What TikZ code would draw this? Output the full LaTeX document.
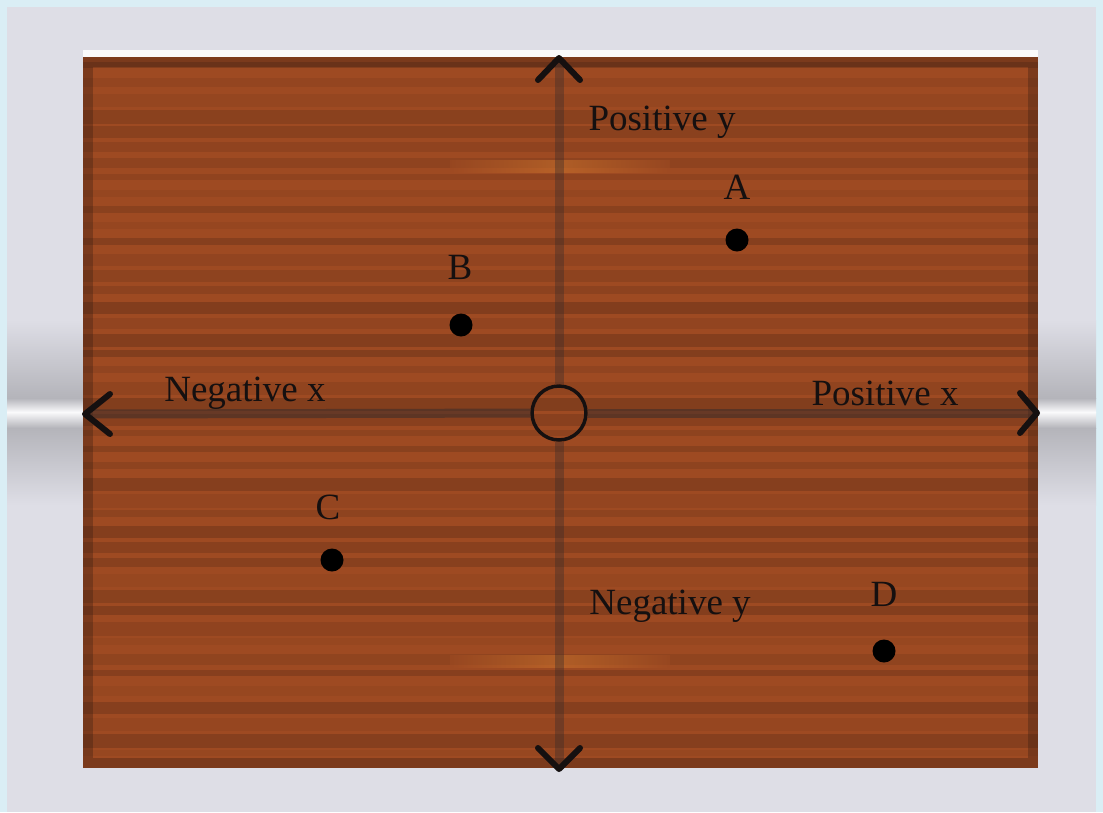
\documentclass[tikz,border=0pt]{standalone}
\usepackage{fontspec}
\setmainfont{Liberation Serif}
\usetikzlibrary{calc}
\definecolor{FrameBlue}{HTML}{DAEEF5}
\definecolor{BackGrey}{HTML}{DEDEE6}
\definecolor{ShadeGrey}{HTML}{B4B4BA}
\definecolor{WoodBase}{HTML}{9E4A22}
\definecolor{WoodDark}{HTML}{3A1E12}
\definecolor{WoodLight}{HTML}{D0782E}
\definecolor{AxisDark}{HTML}{3A2C2A}
\definecolor{InkDark}{HTML}{151010}

\begin{document}
\begin{tikzpicture}[x=1pt,y=-1pt]
    \tikzset{axislabel/.style={text=InkDark,font=\fontsize{37}{42}\selectfont,inner sep=0pt},
      pointlabel/.style={axislabel},
      dotmark/.style={circle,fill=black,minimum size=23pt,inner sep=0pt},
      chevron/.style={draw=InkDark,line width=6pt,line cap=round,line join=round},
      axisline/.style={draw=AxisDark,line width=9pt,opacity=0.55}}
    % frame and background
    \fill[FrameBlue] (0,0) rectangle (1103,812);
    \fill[BackGrey] (7,7) rectangle (1096,812);
    \shade[top color=BackGrey,bottom color=ShadeGrey] (7,320) rectangle (83,398);
    \shade[top color=ShadeGrey,bottom color=white!85!BackGrey] (7,398) rectangle (83,412);
    \shade[top color=white!85!BackGrey,bottom color=ShadeGrey] (7,412) rectangle (83,428);
    \shade[top color=ShadeGrey,bottom color=BackGrey] (7,428) rectangle (83,505);
    \shade[top color=BackGrey,bottom color=ShadeGrey] (1038,320) rectangle (1096,398);
    \shade[top color=ShadeGrey,bottom color=white!85!BackGrey] (1038,398) rectangle (1096,412);
    \shade[top color=white!85!BackGrey,bottom color=ShadeGrey] (1038,412) rectangle (1096,428);
    \shade[top color=ShadeGrey,bottom color=BackGrey] (1038,428) rectangle (1096,505);
    \fill[white!85!BackGrey] (83,50) rectangle (1038,57);
    % board
    \fill[WoodBase] (83,57) rectangle (1038,768);
    \pgfmathsetseed{7}
    \foreach \yy in {62,78,...,760}{
      \pgfmathsetmacro{\op}{0.06+0.22*rnd}
      \pgfmathsetmacro{\hh}{5+9*rnd}
      \fill[WoodDark,opacity=\op] (83,\yy) rectangle (1038,\yy+\hh);
    }
    \shade[left color=WoodBase,right color=WoodLight,opacity=0.5] (450,160) rectangle (559,172);
    \shade[left color=WoodLight,right color=WoodBase,opacity=0.5] (559,160) rectangle (670,172);
    \shade[left color=WoodBase,right color=WoodLight,opacity=0.5] (450,655) rectangle (559,667);
    \shade[left color=WoodLight,right color=WoodBase,opacity=0.5] (559,655) rectangle (670,667);
    \draw[WoodDark,line width=10pt,opacity=0.35] (88,62) rectangle (1033,763);
    % axes
    \coordinate (top) at (559,58);
    \coordinate (bottom) at (559,769);
    \coordinate (left) at (85,414);
    \coordinate (right) at (1037,413);
    \node[circle,draw=InkDark,line width=3.5pt,minimum size=54pt,inner sep=0pt] (o) at (559,413) {};
    \draw[axisline,opacity=0.4] (top) -- (o);
    \draw[axisline,opacity=0.4] (o) -- (bottom);
    \draw[axisline] (left) -- (o);
    \draw[axisline] (o) -- (right);
    \draw[chevron] ($(top)+(-21,22)$) -- (top) -- ($(top)+(21,22)$);
    \draw[chevron] ($(bottom)+(-21,-21)$) -- (bottom) -- ($(bottom)+(21,-21)$);
    \draw[chevron] ($(left)+(25,-20)$) -- (left) -- ($(left)+(25,20)$);
    \draw[chevron] ($(right)+(-17,-20)$) -- (right) -- ($(right)+(-17,20)$);
    % labels
    \node[axislabel] (py) at (662,122) {Positive y};
    \node[axislabel] (ny) at (670,606) {Negative y};
    \node[axislabel] (nx) at (245,393) {Negative x};
    \node[axislabel] (px) at (885,393) {Positive x};
    % points
    \node[dotmark] (a) at (737,240) {};
    \node[dotmark] (b) at (461,325) {};
    \node[dotmark] (c) at (332,560) {};
    \node[dotmark] (d) at (884,651) {};
    \node[pointlabel] at (737,187) {A};
    \node[pointlabel] at (460,267) {B};
    \node[pointlabel] at (328,507) {C};
    \node[pointlabel] at (884,594) {D};
    \useasboundingbox (0,0) rectangle (1103,812);
\end{tikzpicture}
\end{document}
